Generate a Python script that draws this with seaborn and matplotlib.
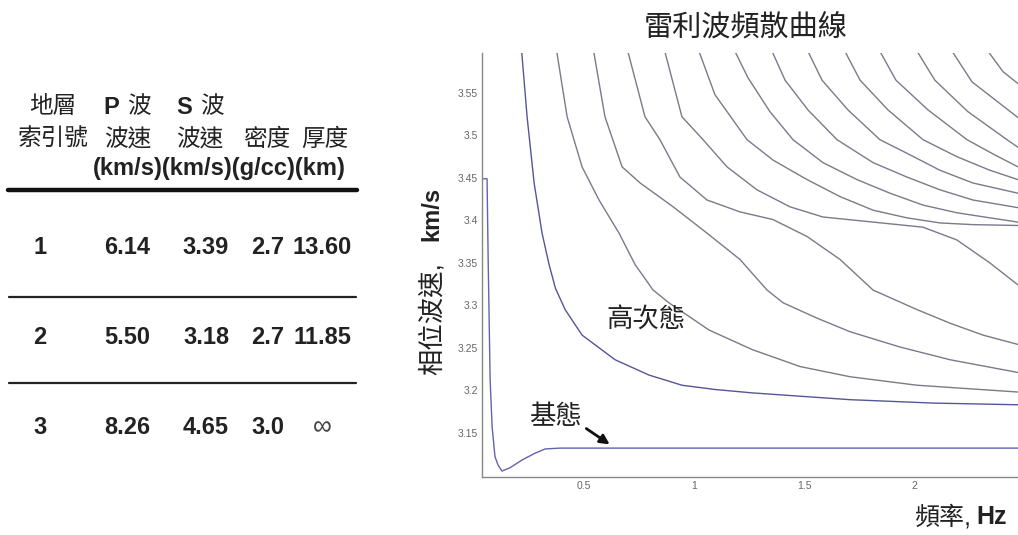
import pandas as pd
import seaborn as sns
import matplotlib.pyplot as plt
from matplotlib.lines import Line2D

# ---- 地層參數表 ----
layer_no = ['1', '2', '3']
vp_list = ['6.14', '5.50', '8.26']
vs_list = ['3.39', '3.18', '4.65']
rho_list = ['2.7', '2.7', '3.0']
thick_list = ['13.60', '11.85', '∞']

# ---- 頻散曲線 (頻率 Hz, 相位波速 km/s) ----
f0 = [0.036, 0.059, 0.064, 0.073, 0.082, 0.095, 0.109, 0.127, 0.164, 0.218, 0.277, 0.323, 0.391, 2.473]
v0 = [3.449, 3.449, 3.354, 3.212, 3.157, 3.122, 3.112, 3.105, 3.109, 3.118, 3.126, 3.131, 3.132, 3.132]

f1 = [0.216, 0.241, 0.273, 0.309, 0.341, 0.370, 0.414, 0.491, 0.641, 0.795, 0.945, 1.095, 1.264, 1.709, 2.086, 2.473]
v1 = [3.60, 3.522, 3.444, 3.385, 3.348, 3.320, 3.295, 3.265, 3.236, 3.218, 3.206, 3.201, 3.197, 3.189, 3.185, 3.183]

f2 = [0.375, 0.423, 0.491, 0.568, 0.659, 0.732, 0.814, 0.886, 1.068, 1.264, 1.482, 1.709, 2.014, 2.473]
v2 = [3.60, 3.522, 3.463, 3.424, 3.385, 3.348, 3.318, 3.303, 3.271, 3.248, 3.228, 3.216, 3.206, 3.198]

f3 = [0.543, 0.595, 0.673, 0.755, 0.905, 1.059, 1.209, 1.332, 1.405, 1.559, 1.709, 1.936, 2.164, 2.473]
v3 = [3.60, 3.522, 3.463, 3.444, 3.416, 3.385, 3.354, 3.318, 3.303, 3.285, 3.269, 3.251, 3.236, 3.221]

f4 = [0.698, 0.777, 0.845, 0.936, 1.059, 1.209, 1.359, 1.514, 1.664, 1.814, 2.014, 2.164, 2.314, 2.473]
v4 = [3.60, 3.522, 3.495, 3.451, 3.424, 3.410, 3.401, 3.381, 3.354, 3.318, 3.295, 3.279, 3.265, 3.254]

f5 = [0.866, 0.945, 1.041, 1.150, 1.286, 1.436, 1.586, 1.814, 2.041, 2.195, 2.345, 2.473]
v5 = [3.60, 3.522, 3.495, 3.463, 3.436, 3.416, 3.404, 3.398, 3.392, 3.377, 3.350, 3.324]

f6 = [1.021, 1.095, 1.241, 1.359, 1.514, 1.664, 1.814, 1.968, 2.118, 2.268, 2.473]
v6 = [3.60, 3.548, 3.495, 3.471, 3.448, 3.428, 3.412, 3.403, 3.397, 3.395, 3.394]

f7 = [1.184, 1.245, 1.345, 1.450, 1.586, 1.741, 1.891, 2.041, 2.195, 2.345, 2.473]
v7 = [3.60, 3.568, 3.528, 3.495, 3.468, 3.448, 3.432, 3.418, 3.409, 3.403, 3.398]

f8 = [1.353, 1.414, 1.518, 1.650, 1.814, 1.968, 2.118, 2.268, 2.473]
v8 = [3.60, 3.565, 3.530, 3.495, 3.468, 3.451, 3.436, 3.424, 3.415]

f9 = [1.516, 1.582, 1.700, 1.845, 1.968, 2.118, 2.268, 2.473]
v9 = [3.60, 3.565, 3.530, 3.495, 3.479, 3.459, 3.444, 3.432]

f10 = [1.684, 1.755, 1.882, 2.041, 2.195, 2.345, 2.473]
v10 = [3.60, 3.565, 3.530, 3.495, 3.475, 3.459, 3.448]

f11 = [1.843, 1.918, 2.064, 2.241, 2.368, 2.473]
v11 = [3.60, 3.565, 3.530, 3.495, 3.477, 3.463]

f12 = [2.012, 2.095, 2.245, 2.423, 2.473]
v12 = [3.60, 3.565, 3.528, 3.495, 3.486]

f13 = [2.171, 2.264, 2.473]
v13 = [3.60, 3.563, 3.521]

f14 = [2.334, 2.405, 2.473]
v14 = [3.60, 3.575, 3.561]

curves = [(f0, v0), (f1, v1), (f2, v2), (f3, v3), (f4, v4), (f5, v5), (f6, v6), (f7, v7),
          (f8, v8), (f9, v9), (f10, v10), (f11, v11), (f12, v12), (f13, v13), (f14, v14)]

rows = []
for m, (fs, vv) in enumerate(curves):
    for a, b in zip(fs, vv):
        rows.append({'mode': m, 'f': a, 'v': b})
df = pd.DataFrame(rows)

sns.set_style('white')
plt.rcParams['font.family'] = ['Liberation Sans', 'Noto Sans CJK TC']

W, H = 1018, 535
fig = plt.figure(figsize=(W / 100, H / 100), dpi=100)


def px(x, y):
    return x / W, 1 - y / H


# ---- 右側: 頻散曲線 ----
ax = fig.add_axes([482 / W, 1 - 477 / H, 1 - 482 / W, (477 - 53) / H])
pal = {m: '#7a7a8a' for m in range(len(curves))}
pal[0] = '#6262b0'
pal[1] = '#55559a'
sns.lineplot(data=df, x='f', y='v', hue='mode', palette=pal, sort=False, estimator=None,
             legend=False, lw=1.0, ax=ax)
ax.set_xlim(0.036, 2.473)
ax.set_ylim(3.098, 3.597)
ax.set_xticks([0.5, 1, 1.5, 2])
ax.set_xticklabels(['0.5', '1', '1.5', '2'])
yt = [3.15, 3.2, 3.25, 3.3, 3.35, 3.4, 3.45, 3.5, 3.55]
ax.set_yticks(yt)
ax.set_yticklabels(['3.15', '3.2', '3.25', '3.3', '3.35', '3.4', '3.45', '3.5', '3.55'])
ax.tick_params(direction='in', length=4, width=0.8, color='#888', labelsize=7.5,
               labelcolor='#666', pad=3)
ax.set_xlabel('')
ax.set_ylabel('')
for s in ['top', 'right']:
    ax.spines[s].set_visible(False)
for s in ['left', 'bottom']:
    ax.spines[s].set_color('#888')
    ax.spines[s].set_linewidth(1.0)

fig.text(*px(746, 28), '雷利波頻散曲線', ha='center', va='center', fontsize=21, color='#222')
fig.text(*px(432, 375), '相位波速,', rotation=90, ha='center', va='bottom', fontsize=19, color='#222')
fig.text(*px(432, 187), 'km/s', rotation=90, ha='center', va='top', fontsize=17,
         fontweight='bold', color='#222')
fig.text(*px(1007, 517), 'Hz', ha='right', va='center', fontsize=18, fontweight='bold', color='#222')
fig.text(*px(971, 517), '頻率,', ha='right', va='center', fontsize=18, color='#222')

fig.text(*px(646, 319), '高次態', ha='center', va='center', fontsize=19, color='#222')
fig.text(*px(555, 417), '基態', ha='center', va='center', fontsize=19, color='#222')
ax.annotate('', xy=px(612, 446), xytext=px(584, 427), xycoords='figure fraction',
            textcoords='figure fraction',
            arrowprops=dict(arrowstyle='-|>', color='#111', lw=2, mutation_scale=14))

# ---- 左側: 地層參數表 ----
tc = '#222'
fs = 17
fig.text(*px(53, 107), '地層', ha='center', va='center', fontsize=fs, color=tc)
fig.text(*px(111, 107), 'P', ha='center', va='center', fontsize=fs, fontweight='bold', color=tc)
fig.text(*px(139, 107), '波', ha='center', va='center', fontsize=fs, color=tc)
fig.text(*px(184, 107), 'S', ha='center', va='center', fontsize=fs, fontweight='bold', color=tc)
fig.text(*px(212, 107), '波', ha='center', va='center', fontsize=fs, color=tc)
for xc, s in [(53, '索引號'), (128, '波速'), (200, '波速'), (267, '密度'), (325, '厚度')]:
    fig.text(*px(xc, 140), s, ha='center', va='center', fontsize=fs, color=tc)
fig.text(*px(93, 168), '(km/s)(km/s)(g/cc)(km)', ha='left', va='center', fontsize=fs,
         fontweight='bold', color=tc)

fig.add_artist(Line2D([8 / W, 357 / W], [1 - 190 / H] * 2, lw=3.2, color='#111'))
for yl in [297, 383]:
    fig.add_artist(Line2D([9 / W, 356 / W], [1 - yl / H] * 2, lw=1.6, color='#222'))

col_x = [40, 127, 206, 268, 322]
row_y = [248, 338, 427]
for i in range(3):
    vals = [layer_no[i], vp_list[i], vs_list[i], rho_list[i], thick_list[i]]
    for xc, s in zip(col_x, vals):
        if s == '∞':
            fig.text(*px(xc, row_y[i]), s, ha='center', va='center', fontsize=19, color='#444')
        else:
            fig.text(*px(xc, row_y[i]), s, ha='center', va='center', fontsize=fs,
                     fontweight='bold', color=tc)

fig.savefig('out.png', dpi=100)
